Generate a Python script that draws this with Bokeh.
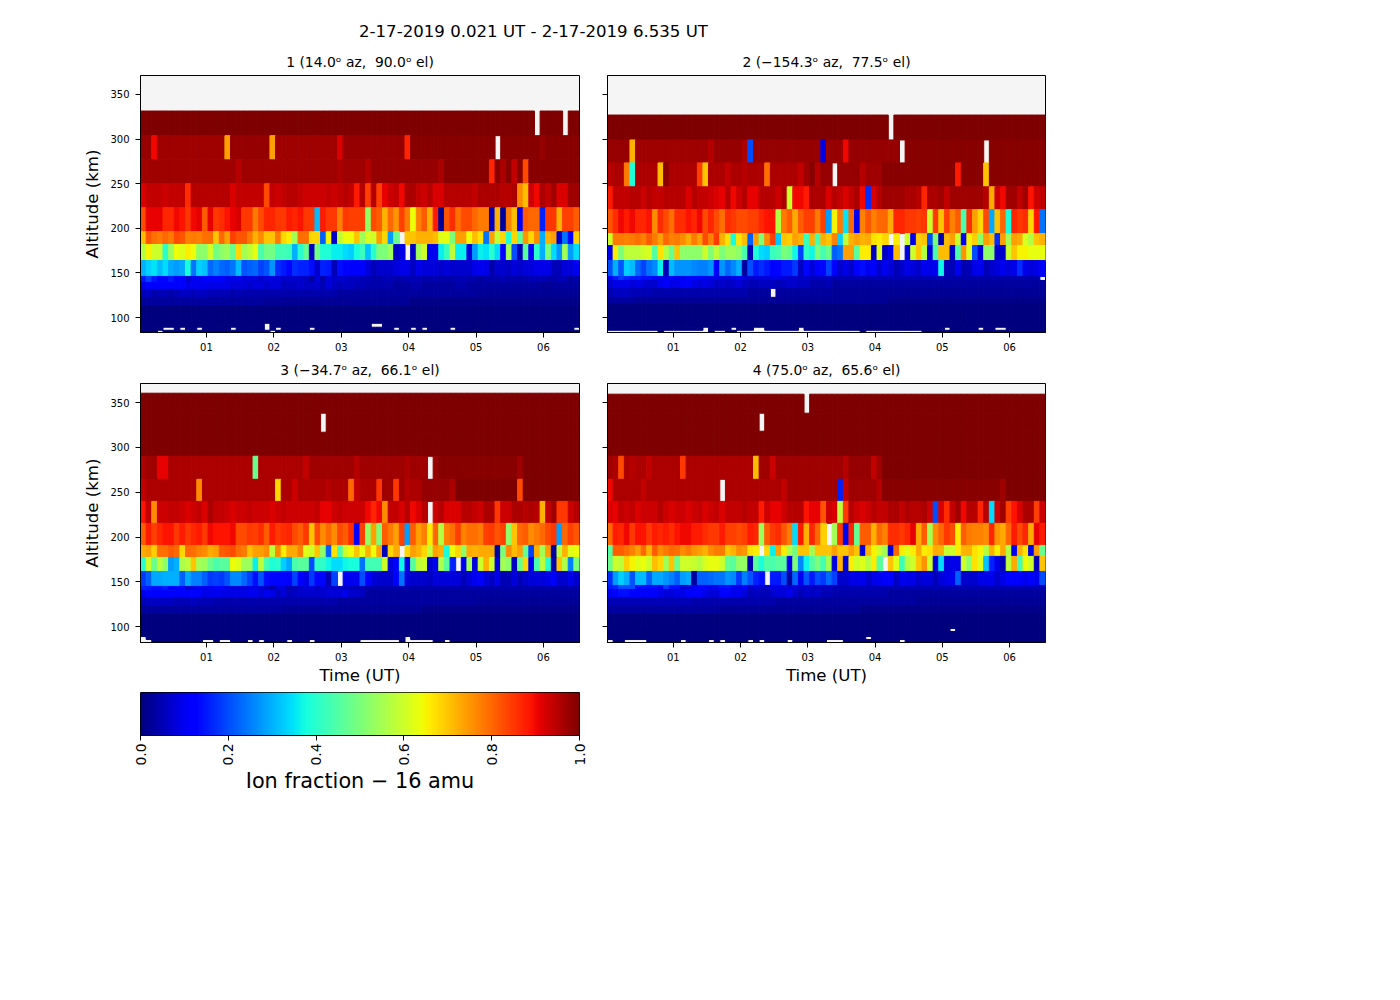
import numpy as np
from bokeh.embed import file_html
from bokeh.resources import INLINE
from bokeh.layouts import column, row
from bokeh.models import ColumnDataSource, FixedTicker, Label, LinearColorMapper, Range1d, Title
from bokeh.plotting import figure
from bokeh.transform import transform

N = None
COLS = 78


def band(value, *missing):
    return [N if i in missing else value for i in range(COLS)]


SUPTITLE = "2-17-2019 0.021 UT - 2-17-2019 6.535 UT"
TIME_START, TIME_END = 0.021, 6.535
TIME_TICKS = [1, 2, 3, 4, 5, 6]
TIME_TICK_LABELS = ["01", "02", "03", "04", "05", "06"]
ALT_TICKS = [100, 150, 200, 250, 300, 350]
CBAR_TICKS = [0.0, 0.2, 0.4, 0.6, 0.8, 1.0]
CBAR_TICK_LABELS = ["0.0", "0.2", "0.4", "0.6", "0.8", "1.0"]
TITLES = ["1 (14.0\u1d52 az,\u00a0 90.0\u1d52 el)", "2 (\u2212154.3\u1d52 az,\u00a0 77.5\u1d52 el)",
          "3 (\u221234.7\u1d52 az,\u00a0 66.1\u1d52 el)", "4 (75.0\u1d52 az,\u00a0 65.6\u1d52 el)"]

# Ion fraction in percent; rows run from the highest altitude band down, None = no data
P1_EDGES = [331.4, 303.8, 276.7, 249.9, 223.1, 196.3, 181.8, 163.9, 146.1, 139.4, 131.6, 122.7, 112.6, 93.6, 89.2, 85.8, 83.3]
P1_VALUES = [
    band(100, 70, 75),
    [98,98,90]+[97]*12+[74]+[98]*7+[74]+[97]*11+[92]+[98]*11+[87]+[99]*15+[N]+[99]*7+[98]+[99]*6,
    [97]*17+[95]+[97]*17+[96]+[97]*4+[95]+[98]*12+[96]+[99]*8+[87,99,96,99,94,99,83]+[99]*9,
    [92,94,94,94,93,94,94,94,86,95, 95,95,95,95,95,95,92,94,94,94, 94,94,83,94,93,94,95,95,94,93,
     93,93,93,94,93,94,95,94,88,95, 84,95,84,91,93,94,90,96,96,94, 93,95,92,92,95,95,95,95,95,94,
     96,96,96,96,95,95,96,76,71,93, 90,96,94,97,92,92,97,97],
    [83,91,91,91,87,87,90,89,85,90, 91,81,91,85,86,89,91,92,85,85, 78,83,87,87,85,85,88,87,89,85,
     85,31,88,85,85,77,85,84,84,84, 53,83,81,72,80,75,84,78,64,77, 81,72,88,2,82,86,79,83,83,80,
     78,78,6,72,3,77,71,11,81,80, 80,16,85,85,72,84,84,81],
    [71,82,79,78,80,78,83,82,77,78, 77,79,79,70,80,74,84,82,82,78, 72,76,70,70,78,68,66,55,79,79,
     68,68,22,65,7,58,64,64,70,54, 61,60,74,68,28,48,N,70,70,72, 72,72,71,62,63,50,74,74,64,71,
     67,24,74,58,68,39,68,46,75,68, 76,30,72,74,7,24,13,69],
    [57,65,60,60,40,54,64,62,66,64, 52,52,60,49,52,54,48,68,55,58, 63,44,49,49,43,43,42,30,40,47,
     6,49,39,39,36,36,34,33,38,42, 32,40,50,50,54,6,9,N,6,55, 60,10,10,36,42,58,36,36,8,28,
     36,35,40,34,12,55,20,5,46,11, 40,30,50,34,27,55,28,34],
    [30,33,35,31,34,29,28,29,38,24, 33,32,23,25,23,22,24,31,21,22, 23,19,21,27,17,15,13,17,16,16,
     14,7,16,15,5,14,12,12,11,11, 8,5,7,7,7,8,9,9,6,9, 8,8,8,7,8,7,7,7,7,9,
     10,9,4,7,7,6,8,7,8,8, 9,9,9,5,5,8,8,10],
    [15,19,15,13,13,15,12,11,7,10, 10,11,12,12,12,9,9,9,8,8, 8,7,8,8,8,7,7,7,7,6, 3,8,4,8,7,7,7,6,6,5,
     5,4,4,5,5,4,4,5,5,5, 4,4,5,4,4,4,5,5,4,4, 3,4,4,4,5,4,4,4,4,5, 5,5,4,4,5,5,3,4],
    [9,11,11,11,11,12,12,11,9,10, 10,10,9,9,9,9,8,8,8,7, 8,8,7,8,8,5,6,6,7,6, 6,7,5,8,6,5,6,6,5,5,
     4,4,4,4,4,3,3,3,4,4, 3,3,3,3,3,3,4,4,3,3, 3,3,3,3,3,3,3,3,3,3, 3,2,2,3,3,3,3,3],
    [5,6,4,5,5,4,5,6,6,5, 6,6,5,5,5,5,4,5,4,4]+[4]*15+[3]*25+[2]*18,
    [3]*22+[2]*26+[1]*30,
    band(0),
    band(0, 22, 41, 42),
    band(0, 4, 5, 7, 10, 16, 22, 24, 30, 45, 48, 50, 55, 77),
    band(0, 3, 23),
]

P2_EDGES = [326.9, 299, 273.3, 246.5, 220.9, 194.1, 180.7, 163.9, 146.1, 141.6, 132.7, 122.7, 114.8, 89.2, 85.8, 83.3]
P2_VALUES = [
    band(100, 50),
    [98]*4+[72]+[97]*13+[95]+[98]*5+[96,20]+[98]*12+[9]+[98]*3+[90]+[98]*9+[N]+[99]*14+[N]+[99]*10,
    [95,96,96,78,39,96,96,96,96,71, 99,96,96,96,96,96,84,70,96,96, 96,94,96,96,95,96,96,96,79,96,
     96,96,96,96,94,97,99,95,98,98, N,98,98,98,98,95,97,97,97,99, 99,99,99,99,99,99,99,99,99,99,
     99,99,88,99,99,99,99,70,99,99, 99,99,99,99,99,99,99,99],
    [88,94,94,94,95,95,93,95,94,94, 95,95,95,95,92,95,94,94,93,92, 91,95,90,93,95,91,91,95,95,95,
     93,96,60,90,90,88,96,96,96,92, 95,94,92,94,96,90,17,92,95,97, 97,97,97,96,96,95,87,96,96,97,
     94,97,97,97,97,97,97,95,73,93, 90,97,97,94,97,89,93,94],
    [82,86,90,88,90,87,87,89,76,86, 83,79,86,86,89,87,90,83,87,83, 79,86,85,83,83,84,84,87,89,89,
     57,78,81,73,81,84,84,78,84,28, 65,78,35,80,10,77,82,77,80,80, 73,87,87,85,85,84,85,60,85,70,
     84,77,81,44,86,74,68,83,29,70, 80,38,87,85,86,68,89,24],
    [60,78,78,77,78,79,77,81,78,74, 80,77,78,76,73,78,74,83,77,85, 72,67,38,67,71,22,74,50,76,84,
     32,70,69,74,72,42,72,43,72,70, 77,33,58,72,74,72,73,67,66,68, N,66,N,60,9,69,70,20,50,4,
     71,74,60,10,65,69,52,74,71,17, 74,55,74,73,61,57,70,72],
    [10,66,50,58,58,58,60,61,45,67, 57,48,70,52,52,52,52,60,51,58, 50,54,54,52,44,5,39,34,33,42,
     44,50,48,37,19,41,37,50,43,48, 22,24,74,74,46,66,66,6,62,6, 10,71,N,8,60,70,57,8,44,71,
     71,6,44,75,61,20,8,52,52,7, 7,60,70,65,65,63,63,63],
    [20,30,21,33,31,23,19,24,26,36, 5,31,27,27,27,26,25,25,27,11, 27,23,26,30,3,20,15,17,15,12,
     13,15,15,18,6,13,8,12,13,19, 12,7,9,7,11,14,10,11,7,10, 8,5,7,9,8,7,10,9,10,37,
     5,5,10,4,5,9,10,5,7,8, 10,8,9,17,9,8,9,11],
    [10,15,18,16,15,15,14,14,12,9, 9,11,10,10,12,12,11,10,9,9, 8,8,9,10,8,7,8,8,8,9, 9,8,7,7,6,7,6,6,6,6]+[5]*20+[4]*17+[N],
    [7,9,9,9,8,9,8,7,7,10, 11,9,9,11,11,9,8,9,8,6, 7,6,7,8,6,5,5,6,6,6, 5,6,7,7,6,6,4,4,4,5]+[3]*38,
    [4,6,6,6,5,5,5,5,4,4, 4,4,4,4,4,4,4,4,4,4, 4,4,4,4,4,3,3,3,3,N, 3,3,3,3,3,3,3,3,3,3]+[2]*38,
    [3]*5+[2]*45+[1]*28,
    band(0),
    band(0, 17, 22, 26, 27, 34, 60, 66, 69, 70),
    band(0, 0, 1, 2, 3, 4, 5, 6, 7, 8, 10, 11, 12, 13, 14, 15, 16, 17, 19, 20, 23, 24, 25, 26, 27, 28, 29, 30,
         31, 32, 33, 34, 35, 36, 37, 38, 39, 40, 41, 42, 43, 44, 46, 47, 48, 49, 50, 51, 52, 53, 54, 55),
]

P3_EDGES = [360.4, 338.1, 316.9, 290.1, 264.4, 239.8, 215.3, 190.7, 177.3, 161.7, 145, 140.5, 132.7, 122.7, 113.7, 89.2, 85.8, 82.5]
P3_VALUES = [
    band(100),
    band(100, 32),
    band(100),
    [96,97,97,91,91]+[96]*15+[48]+[96]*8+[94]+[97]*8+[95]+[97]*8+[96]+[97]*3+[N,98]+[99]*14+[97]+[100]*10,
    [94]+[96]*9+[76]+[96]*13+[68,96,96,93]+[96]*5+[95]+[96]*3+[80,94]+[96]*3+[85,97,97,85,97,95,96,96]+[98]*5+[96]+[100]*11+[83]+[100]*10,
    [89,94,76,93,93,94,94,93,92,93, 94,92,96,94,94,93,92,93,93,94, 93,93,93,92,93,94,93,93,93,93,
     93,94,91,91,93,94,93,93,93,93, 90,87,90,76,94,94,92,95,90,92, 95,N,93,95,92,92,92,95,95,94,
     93,96,96,85,93,93,96,96,95,96, 95,72,94,97,85,85,93,95],
    [81,88,84,87,89,89,85,88,85,87, 88,85,90,89,89,89,90,83,83,85, 84,86,81,88,85,86,87,83,81,85,
     70,83,76,80,76,83,81,86,11,84, 53,74,50,81,78,74,84,28,81,74, 77,66,80,57,77,79,84,77,79,79,
     78,84,85,82,84,52,70,80,81,76, 78,80,83,85,28,80,84,82],
    [73,74,69,79,79,81,80,68,80,79, 77,76,73,74,81,82,83,79,78,71, 74,74,76,58,76,66,73,73,77,62,
     60,70,52,22,67,43,60,64,70,63, 72,64,74,5,68,73,N,68,74,72, 68,58,74,72,38,64,68,52,73,72,
     73,73,73,3,50,76,71,74,47,19, 72,55,74,3,58,72,62,64],
    [40,60,48,58,52,28,30,56,58,70, 55,54,48,44,46,46,64,62,54,54, 36,58,43,39,40,33,29,44,46,46,
     20,41,41,37,34,34,37,38,38,24, 43,43,43,60,8,12,37,9,46,58, 60,7,10,56,46,16,N,10,55,8,
     60,72,60,8,55,52,6,48,68,10, 44,58,40,4,70,56,25,50],
    [18,22,29,29,30,30,30,22,29,25, 25,22,18,19,18,21,26,26,23,19, 14,21,14,13,13,13,11,19,12,9,
     18,13,13,5,19,N,10,10,10,20, 11,8,7,7,7,11,24,8,7,7, 7,6,8,8,8,8,8,5,8,10,
     11,8,6,9,5,5,8,5,7,8, 8,8,9,11,7,7,9,7],
    [16,15,14,14,15,12,11,13,7,9, 10,10,10,11,11,9,8,8,8,9, 9,8,6,4,8,8,4,5,7,8, 8,6,8,7,7,6,6,6,5,5]+[4]*38,
    [9,11,11,11,11,11,11,11,11,11, 11,9,10,10,9,9,9,9,9,10, 10,8,10,9,6,8,5,6,7,7, 7,7,7,8,8,8,10,7,7,6]+[3]*38,
    [5,6,6,6,6,6,5,5,5,6, 5,5,5,4,4,4,4,4,4,4]+[4]*15+[3]*25+[2]*18,
    [3]*25+[2]*25+[1]*28,
    band(0),
    band(0, 0, 47),
    band(0, 0, 1, 11, 12, 14, 15, 19, 21, 26, 30, 39, 40, 41, 42, 43, 44, 45, 47, 48, 49, 50, 51, 54),
]

P4_EDGES = [359.3, 338.1, 318, 290.1, 264.4, 239.8, 215.3, 190.7, 178.5, 161.7, 146.1, 141.6, 132.7, 122.7, 113.7, 98.1, 94.8, 89.2, 85.8, 82.5]
P4_VALUES = [
    band(100, 35),
    band(100, 27),
    band(100),
    [97,96,83,96,95,96,96,94]+[96]*5+[85]+[96]*12+[71,97,97,93]+[97]*12+[95]+[98]*4+[94,97]+[100]*29,
    [90]+[96]*5+[94]+[96]*13+[N]+[96]*10+[94]+[97]*9+[16,94]+[97]*4+[97,95]+[99]*21+[97]+[100]*7,
    [92,91,94,93,94,92,93,93,93,95, 93,92,93,93,92,93,94,92,93,94, 92,94,94,94,95,94,94,88,93,91,
     91,93,95,95,95,89,91,91,82,93, 92,58,85,95,93,92,93,95,94,94, 96,96,94,96,95,95,96,93,20,92,
     86,94,97,90,95,95,87,95,34,93, 97,84,89,92,96,96,84,93],
    [80,88,87,90,85,89,89,85,88,87, 88,86,89,90,90,88,88,86,85,85, 88,84,84,83,84,88,87,54,81,85,
     86,82,78,34,88,72,87,80,69,N, 55,85,10,87,47,81,81,72,80,77, 86,86,85,87,91,73,81,55,76,80,
     85,83,66,81,78,77,77,76,87,75, 73,80,88,83,87,73,91,88],
    [45,81,81,79,77,74,80,72,81,76, 78,80,79,76,78,75,74,72,76,78, 78,70,72,76,75,67,66,N,68,36,
     74,66,56,49,70,70,55,70,70,70, 74,70,70,74,70,8,72,65,60,55, 8,80,66,62,66,73,66,67,73,72,
     59,60,66,72,72,67,65,57,72,65, 73,57,10,72,67,9,74,48],
    [48,60,58,69,65,62,64,60,71,68, 54,70,48,60,60,59,57,61,63,63, 60,47,46,53,53,4,46,38,45,44,
     46,46,10,50,26,37,45,50,43,55, 8,72,8,66,60,62,57,66,46,N, 70,62,42,57,60,70,75,60,8,34,
     8,9,9,60,52,67,62,32,16,9, 5,58,73,43,64,60,5,70],
    [17,28,33,30,21,31,31,22,29,29, 27,25,22,28,29,3,22,22,23,24, 24,27,26,18,25,21,16,14,N,15,
     15,20,3,23,10,21,15,20,18,23, 19,7,7,9,9,10,7,9,10,11, 11,6,10,9,9,7,8,8,5,8,
     9,10,22,7,7,7,9,9,10,7, 9,11,11,11,10,11,10,20],
    [15,16,20,20,20,14,14,14,14,12, 18,14,14,8,8,11,11,11,10,10, 14,14,10,9,12,7,8,7,6,9, 9,8,8,8,7,7,6,6,6,6]+[5]*38,
    [10,12,14,14,12,11,12,11,11,9, 8,8,9,9,11,11,11,9,8,8, 11,11,10,10,8,5,6,5,5,7, 8,8,10,7,5,7,6,7,5,5]+[4]*10+[3]*28,
    [5]*15+[4]*15+[3]*25+[2]*23,
    [3]*20+[2]*25+[1]*33,
    band(0),
    band(0, 61),
    band(0),
    band(0, 46),
    band(0, 0, 3, 4, 5, 6, 13, 18, 20, 25, 27, 32, 39, 40, 41, 52),
]

# matplotlib's "jet" colour map
jet_x = np.linspace(0, 1, 256)
jet_r = np.interp(jet_x, [0, 0.35, 0.66, 0.89, 1], [0, 0, 1, 1, 0.5])
jet_g = np.interp(jet_x, [0, 0.125, 0.375, 0.64, 0.91, 1], [0, 0, 1, 1, 0, 0])
jet_b = np.interp(jet_x, [0, 0.11, 0.34, 0.65, 1], [0.5, 1, 1, 0, 0])
JET = ["#%02x%02x%02x" % (int(r * 255), int(g * 255), int(b * 255)) for r, g, b in zip(jet_r, jet_g, jet_b)]
mapper = LinearColorMapper(palette=JET, low=0, high=1)
FONT = "DejaVu Sans"


def panel(title, edges, values, left_label, bottom_label, width, height, bl, br, bt, bb, y_low):
    p = figure(width=width, height=height, output_backend="svg", toolbar_location=None,
               x_range=Range1d(TIME_START, TIME_END), y_range=Range1d(y_low, 371.2),
               min_border_left=bl, min_border_right=br, min_border_top=bt, min_border_bottom=bb,
               background_fill_color="#f5f5f5", border_fill_color="white", tools="")
    p.add_layout(Title(text=title, align="center", text_font=FONT, text_font_size="13.9px",
                       text_font_style="normal", text_color="black", standoff=12), "above")
    dt = (TIME_END - TIME_START) / COLS
    L, R, B, T, V = [], [], [], [], []
    for r, cells in enumerate(values):
        for c, v in enumerate(cells):
            if v is None:
                continue
            L.append(TIME_START + c * dt)
            R.append(TIME_START + (c + 1) * dt)
            T.append(edges[r])
            B.append(edges[r + 1])
            V.append(v / 100)
    src = ColumnDataSource(dict(left=L, right=R, bottom=B, top=T, value=V))
    cmap = transform("value", mapper)
    p.quad(left="left", right="right", bottom="bottom", top="top", source=src,
           fill_color=cmap, line_color=cmap, line_width=1)
    p.grid.visible = False
    p.outline_line_color = "black"
    p.outline_line_width = 1
    for ax in (p.xaxis[0], p.yaxis[0]):
        ax.major_tick_in = 0
        ax.major_tick_out = 5
        ax.minor_tick_in = 0
        ax.minor_tick_out = 0
        ax.major_label_text_font = FONT
        ax.major_label_text_font_size = "10px"
        ax.major_label_text_color = "black"
        ax.axis_line_color = "black"
        ax.major_tick_line_color = "black"
        ax.axis_label_text_font = FONT
        ax.axis_label_text_font_size = "16.6px"
        ax.axis_label_text_font_style = "normal"
        ax.axis_label_text_color = "black"
    p.xaxis.ticker = FixedTicker(ticks=TIME_TICKS)
    p.xaxis.major_label_overrides = dict(zip(TIME_TICKS, TIME_TICK_LABELS))
    p.yaxis.ticker = FixedTicker(ticks=ALT_TICKS)
    p.yaxis.major_label_orientation = "horizontal"
    p.yaxis.major_label_standoff = 6
    if left_label:
        p.yaxis.axis_label = "Altitude (km)"
        p.yaxis.axis_label_standoff = 5
    else:
        p.yaxis.major_label_overrides = {t: "" for t in ALT_TICKS}
    if bottom_label:
        p.xaxis.axis_label = "Time (UT)"
        p.xaxis.axis_label_standoff = 2
    return p


head = figure(width=1057, height=45, output_backend="svg", toolbar_location=None, tools="",
              x_range=Range1d(0, 1057), y_range=Range1d(0, 45), x_axis_type=None, y_axis_type=None,
              min_border=0, outline_line_color=None)
head.grid.visible = False
head.add_layout(Label(x=393, y=14, x_units="screen", text=SUPTITLE, text_align="center", text_baseline="middle",
                      text_font=FONT, text_font_size="16.6px", text_color="black"))

p1 = panel(TITLES[0], P1_EDGES, P1_VALUES, True, False, 593, 308, 140, 14, 30, 20, 83.3)
p2 = panel(TITLES[1], P2_EDGES, P2_VALUES, False, False, 471, 308, 14, 19, 30, 20, 83.3)
p3 = panel(TITLES[2], P3_EDGES, P3_VALUES, True, True, 593, 339, 140, 14, 30, 50, 82.5)
p4 = panel(TITLES[3], P4_EDGES, P4_VALUES, False, True, 471, 339, 14, 19, 30, 50, 82.5)

cb = figure(width=593, height=108, output_backend="svg", toolbar_location=None, tools="",
            x_range=Range1d(0, 1), y_range=Range1d(0, 1), y_axis_type=None,
            min_border_left=140, min_border_right=14, min_border_top=0, min_border_bottom=65)
cb.image(image=[np.linspace(0, 1, 256).reshape(1, 256)], x=0, y=0, dw=1, dh=1, color_mapper=mapper)
cb.grid.visible = False
cb.outline_line_color = "black"
ax = cb.xaxis[0]
ax.ticker = FixedTicker(ticks=CBAR_TICKS)
ax.major_label_overrides = dict(zip(CBAR_TICKS, CBAR_TICK_LABELS))
ax.major_label_orientation = np.pi / 2
ax.major_label_standoff = 3
ax.major_label_text_font = FONT
ax.major_label_text_font_size = "13.9px"
ax.major_label_text_color = "black"
ax.major_tick_in = 0
ax.major_tick_out = 5
ax.minor_tick_in = 0
ax.minor_tick_out = 0
ax.axis_label = "Ion fraction \u2212 16 amu"
ax.axis_label_text_font = FONT
ax.axis_label_text_font_size = "20.8px"
ax.axis_label_text_font_style = "normal"
ax.axis_label_text_color = "black"
ax.axis_label_standoff = 0

layout = column(head, row(p1, p2), row(p3, p4), cb)
open("out.html", "w").write(file_html(layout, INLINE))
